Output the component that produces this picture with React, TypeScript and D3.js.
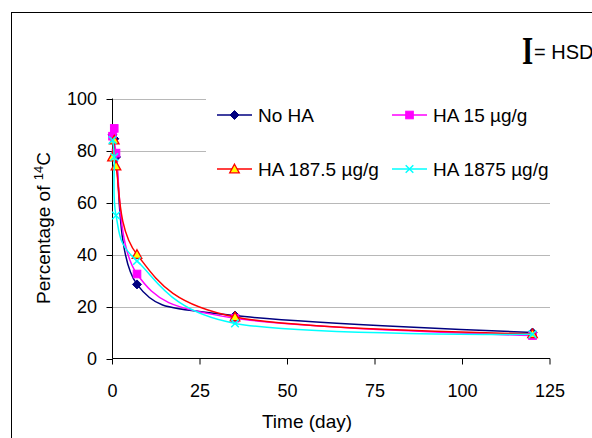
import React from "react";
import * as d3 from "d3";

const days = [0, 0.5, 1, 7, 35, 120];
const noHA = [86, 84.5, 77.5, 28.5, 16.5, 10];
const ha15 = [85.5, 88.5, 79, 32.5, 15.5, 8.8];
const ha1875_0 = [77.5, 84, 74, 40, 16, 9.5];
const ha1875 = [84, 77.5, 55, 37.5, 13.5, 9.3];
const seriesNames = ["No HA", "HA 15 µg/g", "HA 187.5 µg/g", "HA 1875 µg/g"];
const xTicks = [0, 25, 50, 75, 100, 125];
const yTicks = [0, 20, 40, 60, 80, 100];

const seriesValues = [noHA, ha15, ha1875_0, ha1875];
const colors = ["#000080", "#ff00ff", "#ff0000", "#00ffff"];
const markers = ["diamond", "square", "triangle", "x"];

const FONT = "'Liberation Sans', Arial, sans-serif";

function Marker({ type, x, y, color }: { type: string; x: number; y: number; color: string }) {
  if (type === "diamond") {
    const s = 4.5;
    return <path d={`M${x},${y - s}L${x + s},${y}L${x},${y + s}L${x - s},${y}Z`} fill={color} stroke={color} strokeWidth={1} />;
  }
  if (type === "square") {
    const s = 3.8;
    return <rect x={x - s} y={y - s} width={2 * s} height={2 * s} fill={color} stroke={color} strokeWidth={1} />;
  }
  if (type === "triangle") {
    const s = 4.8;
    return <path d={`M${x},${y - s}L${x + s},${y + s * 0.8}L${x - s},${y + s * 0.8}Z`} fill="#ffff00" stroke="#ff0000" strokeWidth={1.3} />;
  }
  const s = 3.8;
  return <path d={`M${x - s},${y - s}L${x + s},${y + s}M${x + s},${y - s}L${x - s},${y + s}`} stroke={color} strokeWidth={1.5} fill="none" />;
}

export default function App() {
  const x = d3.scaleLinear().domain([0, 125]).range([112.5, 550]);
  const y = d3.scaleLinear().domain([0, 100]).range([358.5, 98.5]);
  const line = d3
    .line<number>()
    .x((_, i) => x(days[i]))
    .y((v) => y(v))
    .curve(d3.curveCardinal.tension(0));

  const legendPos = [
    { lx: 217, ly: 115 },
    { lx: 392, ly: 115 },
    { lx: 217, ly: 169 },
    { lx: 392, ly: 169 },
  ];

  return (
    <svg width={592} height={438} style={{ position: "absolute", left: 0, top: 0, background: "#fff" }} fontFamily={FONT}>
      <rect x={0} y={0} width={592} height={438} fill="#fff" />
      <rect x={11.5} y={12.5} width={620} height={500} fill="none" stroke="#000" strokeWidth={1} />

      {/* gridlines */}
      {yTicks.filter((t) => t > 0).map((t) => (
        <line key={t} x1={x(0)} x2={x(125)} y1={Math.round(y(t)) + 0.5} y2={Math.round(y(t)) + 0.5} stroke="#b8b8b8" strokeWidth={1} />
      ))}

      {/* legend background */}
      <rect x={206} y={88} width={345} height={105} fill="#fff" />

      {/* axes */}
      <line x1={x(0)} x2={x(0)} y1={y(100)} y2={y(0)} stroke="#000" strokeWidth={1} />
      <line x1={x(0)} x2={x(125)} y1={y(0)} y2={y(0)} stroke="#000" strokeWidth={1} />
      {yTicks.map((t) => (
        <g key={t}>
          <line x1={x(0) - 6} x2={x(0)} y1={Math.round(y(t)) + 0.5} y2={Math.round(y(t)) + 0.5} stroke="#000" />
          <text x={97} y={y(t)} dy="0.35em" textAnchor="end" fontSize={18} fill="#000">{t}</text>
        </g>
      ))}
      {xTicks.map((t) => (
        <g key={t}>
          <line x1={x(t)} x2={x(t)} y1={y(0)} y2={y(0) + 6} stroke="#000" />
          <text x={x(t)} y={397} textAnchor="middle" fontSize={18} fill="#000">{t}</text>
        </g>
      ))}

      {/* axis titles */}
      <text x={307} y={428} textAnchor="middle" fontSize={19} fill="#000">Time (day)</text>
      <text transform="translate(50,228) rotate(-90)" textAnchor="middle" fontSize={19} fill="#000">
        Percentage of <tspan dy={-7} fontSize={13}>14</tspan><tspan dy={7}>C</tspan>
      </text>

      {/* series */}
      {seriesValues.map((vals, si) => (
        <g key={si}>
          <path d={line(vals) || ""} fill="none" stroke={colors[si]} strokeWidth={1.5} />
          {vals.map((v, i) => (
            <Marker key={i} type={markers[si]} x={x(days[i])} y={y(v)} color={colors[si]} />
          ))}
        </g>
      ))}

      {/* legend */}
      {seriesNames.map((name, i) => {
        const p = legendPos[i];
        return (
          <g key={name}>
            <line x1={p.lx} x2={p.lx + 35} y1={p.ly} y2={p.ly} stroke={colors[i]} strokeWidth={1.5} />
            <Marker type={markers[i]} x={p.lx + 17.5} y={p.ly} color={colors[i]} />
            <text x={p.lx + 41} y={p.ly} dy="0.35em" fontSize={19} fill="#000">{name}</text>
          </g>
        );
      })}

      {/* HSD note */}
      <text transform="translate(527.5,64) scale(0.72,1)" textAnchor="middle" fontFamily="'Liberation Serif', 'Times New Roman', serif" fontWeight="bold" fontSize={40} fill="#000">I</text>
      <text x={534} y={59} fontSize={20} fill="#000">= HSD</text>
    </svg>
  );
}
